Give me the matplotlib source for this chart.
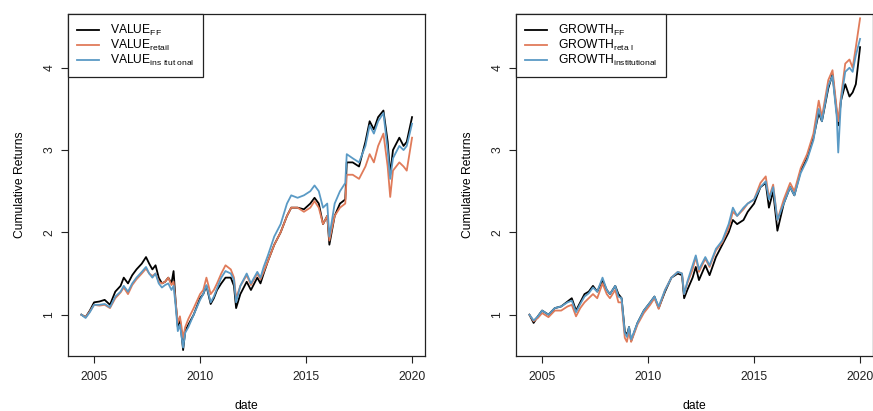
import matplotlib
matplotlib.use("Agg")
import matplotlib.pyplot as plt

plt.rcParams['font.family'] = ['Liberation Sans', 'DejaVu Sans']
plt.rcParams['mathtext.fontset'] = 'custom'
plt.rcParams['mathtext.rm'] = 'Liberation Sans'
plt.rcParams['mathtext.it'] = 'Liberation Sans'

# value panel (decimal years, cumulative returns)
value_dates = [2004.40, 2004.60, 2004.80, 2005.00, 2005.25, 2005.50, 2005.75, 2006.00, 2006.25, 2006.40,
               2006.60, 2006.80, 2007.00, 2007.25, 2007.45, 2007.60, 2007.75, 2007.90, 2008.05, 2008.20,
               2008.35, 2008.50, 2008.65, 2008.75, 2008.85, 2008.95, 2009.05, 2009.20, 2009.30, 2009.45,
               2009.70, 2010.00, 2010.15, 2010.30, 2010.50, 2010.65, 2010.80, 2011.00, 2011.20, 2011.45,
               2011.60, 2011.70, 2011.90, 2012.20, 2012.40, 2012.70, 2012.85, 2013.00, 2013.20, 2013.50,
               2013.80, 2014.10, 2014.30, 2014.60, 2014.90, 2015.20, 2015.40, 2015.60, 2015.80, 2016.00,
               2016.10, 2016.35, 2016.60, 2016.85, 2016.92, 2017.20, 2017.50, 2017.80, 2018.00, 2018.20,
               2018.40, 2018.65, 2018.85, 2018.97, 2019.10, 2019.40, 2019.60, 2019.75, 2020.00]
value_ff = [1.00, 0.97, 1.05, 1.15, 1.16, 1.18, 1.12, 1.28, 1.35, 1.45,
            1.38, 1.48, 1.55, 1.62, 1.70, 1.62, 1.55, 1.60, 1.45, 1.38,
            1.40, 1.45, 1.38, 1.53, 1.15, 0.85, 0.95, 0.57, 0.80, 0.88,
            1.00, 1.20, 1.25, 1.35, 1.13, 1.20, 1.30, 1.38, 1.45, 1.45,
            1.35, 1.08, 1.25, 1.40, 1.30, 1.45, 1.38, 1.50, 1.65, 1.85,
            2.00, 2.20, 2.30, 2.30, 2.28, 2.35, 2.42, 2.35, 2.10, 2.20,
            1.85, 2.20, 2.35, 2.40, 2.85, 2.85, 2.80, 3.10, 3.35, 3.25,
            3.40, 3.48, 3.10, 2.70, 3.00, 3.15, 3.05, 3.10, 3.40]
value_retail = [1.00, 0.97, 1.04, 1.12, 1.11, 1.12, 1.08, 1.20, 1.27, 1.33,
                1.25, 1.36, 1.43, 1.50, 1.56, 1.50, 1.47, 1.50, 1.40, 1.38,
                1.40, 1.45, 1.36, 1.40, 1.15, 0.90, 0.98, 0.72, 0.85, 0.95,
                1.08, 1.25, 1.30, 1.45, 1.25, 1.30, 1.38, 1.50, 1.60, 1.55,
                1.45, 1.20, 1.35, 1.48, 1.36, 1.50, 1.43, 1.52, 1.65, 1.85,
                2.00, 2.20, 2.30, 2.30, 2.25, 2.30, 2.38, 2.30, 2.10, 2.20,
                1.90, 2.20, 2.30, 2.35, 2.70, 2.70, 2.65, 2.80, 2.95, 2.85,
                3.05, 3.20, 2.80, 2.43, 2.75, 2.85, 2.80, 2.75, 3.15]
value_inst = [1.00, 0.96, 1.03, 1.12, 1.12, 1.13, 1.09, 1.22, 1.28, 1.35,
              1.28, 1.38, 1.45, 1.52, 1.58, 1.50, 1.45, 1.50, 1.38, 1.33,
              1.36, 1.38, 1.30, 1.35, 1.10, 0.80, 0.88, 0.60, 0.78, 0.85,
              1.00, 1.18, 1.25, 1.36, 1.15, 1.22, 1.32, 1.45, 1.53, 1.50,
              1.42, 1.15, 1.35, 1.50, 1.38, 1.52, 1.45, 1.58, 1.72, 1.95,
              2.10, 2.35, 2.45, 2.42, 2.45, 2.50, 2.57, 2.50, 2.30, 2.35,
              1.95, 2.35, 2.50, 2.60, 2.95, 2.90, 2.85, 3.05, 3.30, 3.20,
              3.35, 3.45, 3.00, 2.65, 2.90, 3.05, 3.00, 3.05, 3.32]

# growth panel
growth_dates = [2004.40, 2004.60, 2004.80, 2005.00, 2005.30, 2005.60, 2005.90, 2006.20, 2006.40, 2006.60,
                2006.80, 2007.00, 2007.20, 2007.40, 2007.60, 2007.85, 2008.05, 2008.20, 2008.45, 2008.60,
                2008.75, 2008.90, 2009.00, 2009.10, 2009.20, 2009.50, 2009.80, 2010.10, 2010.30, 2010.50,
                2010.80, 2011.10, 2011.40, 2011.60, 2011.70, 2011.85, 2012.10, 2012.25, 2012.40, 2012.70,
                2012.90, 2013.20, 2013.50, 2013.80, 2014.00, 2014.20, 2014.50, 2014.70, 2015.00, 2015.30,
                2015.55, 2015.70, 2015.90, 2016.10, 2016.40, 2016.70, 2016.90, 2017.20, 2017.50, 2017.80,
                2018.05, 2018.20, 2018.50, 2018.70, 2018.90, 2018.97, 2019.10, 2019.30, 2019.50, 2019.65,
                2019.80, 2020.00]
growth_ff = [1.00, 0.90, 0.98, 1.05, 1.00, 1.08, 1.10, 1.16, 1.20, 1.05,
             1.15, 1.25, 1.28, 1.35, 1.28, 1.42, 1.30, 1.25, 1.35, 1.25,
             1.20, 0.80, 0.75, 0.85, 0.68, 0.90, 1.05, 1.15, 1.22, 1.08,
             1.28, 1.45, 1.50, 1.48, 1.20, 1.30, 1.45, 1.58, 1.42, 1.60,
             1.48, 1.70, 1.85, 2.00, 2.15, 2.10, 2.15, 2.25, 2.35, 2.55,
             2.60, 2.30, 2.50, 2.02, 2.35, 2.55, 2.45, 2.75, 2.90, 3.15,
             3.45, 3.35, 3.75, 3.92, 3.45, 3.30, 3.60, 3.80, 3.65, 3.70,
             3.80, 4.25]
growth_retail = [1.00, 0.92, 0.96, 1.02, 0.97, 1.05, 1.05, 1.10, 1.12, 0.98,
                 1.08, 1.15, 1.20, 1.25, 1.20, 1.38, 1.25, 1.20, 1.30, 1.15,
                 1.15, 0.72, 0.67, 0.80, 0.67, 0.88, 1.02, 1.12, 1.20, 1.07,
                 1.30, 1.45, 1.52, 1.50, 1.25, 1.38, 1.55, 1.70, 1.52, 1.68,
                 1.58, 1.78, 1.88, 2.05, 2.25, 2.20, 2.28, 2.35, 2.40, 2.60,
                 2.68, 2.42, 2.58, 2.15, 2.40, 2.60, 2.50, 2.78, 2.95, 3.20,
                 3.60, 3.40, 3.85, 3.97, 3.50, 3.35, 3.65, 4.05, 4.10, 4.00,
                 4.25, 4.60]
growth_inst = [1.00, 0.93, 0.98, 1.05, 1.00, 1.08, 1.10, 1.15, 1.17, 1.03,
               1.13, 1.22, 1.26, 1.33, 1.28, 1.45, 1.30, 1.25, 1.35, 1.22,
               1.20, 0.78, 0.73, 0.85, 0.70, 0.90, 1.05, 1.15, 1.22, 1.10,
               1.30, 1.45, 1.52, 1.50, 1.25, 1.40, 1.60, 1.72, 1.55, 1.70,
               1.60, 1.80, 1.90, 2.10, 2.30, 2.20, 2.30, 2.35, 2.40, 2.55,
               2.62, 2.40, 2.55, 2.15, 2.35, 2.55, 2.45, 2.72, 2.88, 3.12,
               3.50, 3.35, 3.78, 3.90, 3.40, 2.97, 3.60, 3.95, 4.00, 3.95,
               4.15, 4.35]

col_ff = 'black'
col_retail = '#E07B5A'
col_inst = '#5A9AC5'

fig = plt.figure(figsize=(8.73, 4.11), dpi=100)
ax1 = fig.add_axes([0.0779, 0.1338, 0.4089, 0.832])
ax2 = fig.add_axes([0.5911, 0.1338, 0.4089, 0.832])

panels = [
    (ax1, value_dates, [value_ff, value_retail, value_inst],
     [r'VALUE$_{\mathrm{FF}}$', r'VALUE$_{\mathrm{retail}}$', r'VALUE$_{\mathrm{ins\ itut\ onal}}$']),
    (ax2, growth_dates, [growth_ff, growth_retail, growth_inst],
     [r'GROWTH$_{\mathrm{FF}}$', r'GROWTH$_{\mathrm{reta\ l}}$', r'GROWTH$_{\mathrm{institutional}}$']),
]

for ax, dates, series, labels in panels:
    for vals, c, lab in zip(series, [col_ff, col_retail, col_inst], labels):
        ax.plot(dates, vals, color=c, lw=1.3, label=lab)
    ax.set_xlim(2003.77, 2020.61)
    ax.set_ylim(0.498, 4.652)
    ax.set_xticks([2005, 2010, 2015, 2020])
    ax.set_yticks([1, 2, 3, 4])
    ax.tick_params(axis='both', direction='out', length=5, width=0.8, labelsize=8.7, colors='#222222')
    ax.tick_params(axis='x', pad=6)
    ax.tick_params(axis='y', pad=4)
    for t in ax.get_yticklabels():
        t.set_rotation(90)
        t.set_va('center')
    for s in ax.spines.values():
        s.set_linewidth(0.9)
        s.set_color('#222222')
    ax.set_ylabel('Cumulative Returns', fontsize=8.7)
    ax.yaxis.set_label_coords(-0.118, 0.5)
    ax.set_xlabel('date', fontsize=8.7)
    ax.xaxis.set_label_coords(0.5, -0.128)
    leg = ax.legend(loc='upper left', borderaxespad=0, fancybox=False, framealpha=1,
                    edgecolor='#222222', fontsize=8.7, handlelength=1.8, handletextpad=0.9,
                    labelspacing=0.0, borderpad=0.75)
    leg.get_frame().set_linewidth(0.9)

fig.savefig('out.png', dpi=100)
